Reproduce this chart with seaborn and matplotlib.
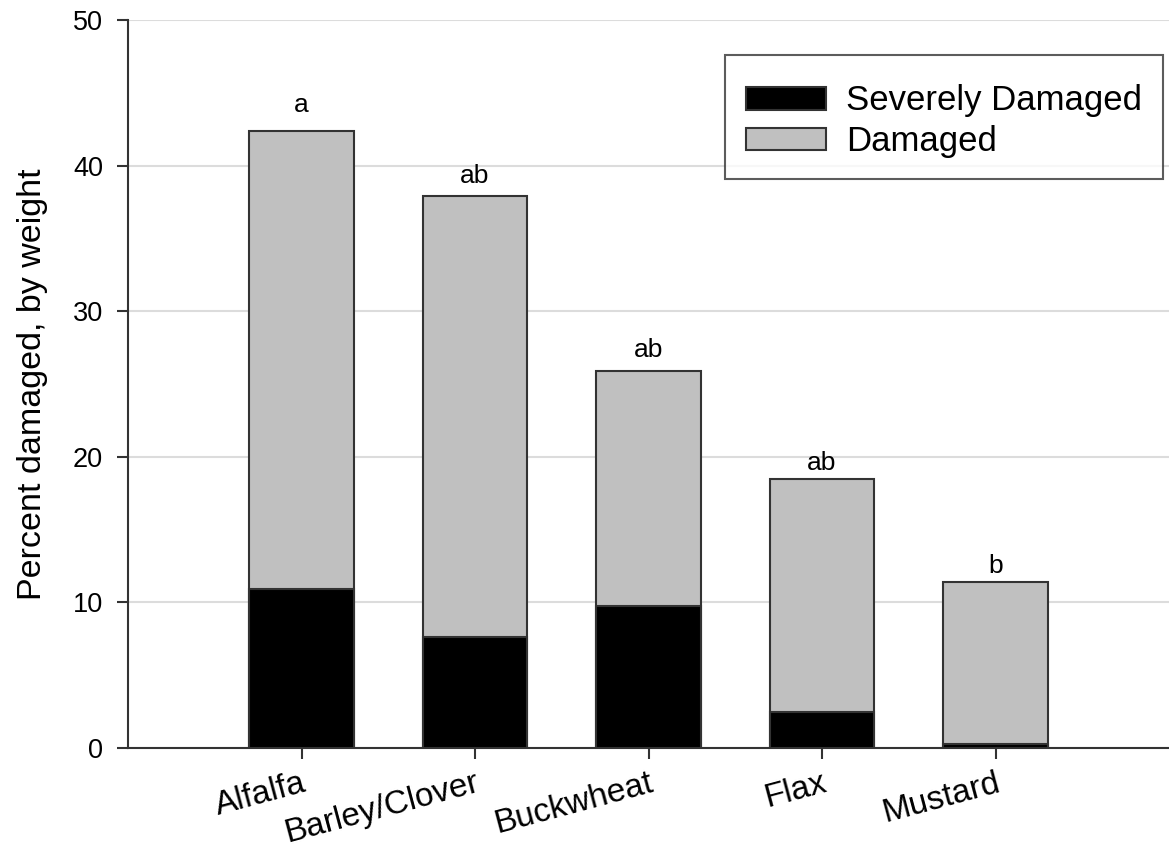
import matplotlib
matplotlib.use("Agg")
import matplotlib.pyplot as plt
import seaborn as sns
import pandas as pd
from matplotlib.patches import Patch

categories = ["Alfalfa", "Barley/Clover", "Buckwheat", "Flax", "Mustard"]
total_damaged = [42.4, 37.9, 25.9, 18.5, 11.4]
severely_damaged = [10.9, 7.6, 9.75, 2.5, 0.3]
letters = ["a", "ab", "ab", "ab", "b"]
letter_heights = [43.7, 38.8, 26.85, 19.1, 12.0]
yticks = [0, 10, 20, 30, 40, 50]

sns.set_theme(style="white")
plt.rcParams['font.family'] = ['Liberation Sans', 'DejaVu Sans']
plt.rcParams['text.color'] = 'black'
plt.rcParams['axes.labelcolor'] = 'black'

df = pd.DataFrame({"crop": categories, "total": total_damaged, "severe": severely_damaged})

fig = plt.figure(figsize=(11.69, 8.48), dpi=100)
ax = fig.add_axes([0.1095, 0.118, 0.8905, 0.858])

gray = "#c0c0c0"
edge = "#333333"
sns.barplot(data=df, x="crop", y="total", color=gray, width=0.6, edgecolor=edge,
            linewidth=1.5, saturation=1, ax=ax, zorder=3)
sns.barplot(data=df, x="crop", y="severe", color="black", width=0.6, edgecolor=edge,
            linewidth=1.5, saturation=1, ax=ax, zorder=3)

for i, (h, l) in enumerate(zip(letter_heights, letters)):
    ax.text(i, h, l, ha="center", va="baseline", fontsize=19, color="black")

ax.set_xlim(-1, 5)
ax.set_ylim(0, 50)
ax.set_yticks(yticks)
ax.yaxis.grid(True, color="#dcdcdc", linewidth=1.5, zorder=0)
ax.xaxis.grid(False)
ax.set_axisbelow(True)
for s in ["top", "right"]:
    ax.spines[s].set_visible(False)
for s in ["left", "bottom"]:
    ax.spines[s].set_color("#333333")
    ax.spines[s].set_linewidth(1.5)
ax.tick_params(axis="both", which="both", direction="out", length=8, width=1.5,
               color="#333333", bottom=True, left=True, labelcolor="black")
ax.tick_params(axis="y", labelsize=19.5, pad=10)
ax.tick_params(axis="x", labelsize=24, pad=6)
ax.set_xticks(range(len(categories)))
ax.set_xticklabels(categories, rotation=15, ha="right", rotation_mode="anchor")
ax.set_xlabel("")
ax.set_ylabel("Percent damaged, by weight", fontsize=24.5, labelpad=18, color="black")

handles = [Patch(facecolor="black", edgecolor=edge, linewidth=1.5, label="Severely Damaged"),
           Patch(facecolor=gray, edgecolor=edge, linewidth=1.5, label="Damaged")]
leg = ax.legend(handles=handles, loc="upper right", bbox_to_anchor=(1163/1169, 1 - 55/848),
                bbox_transform=fig.transFigure, borderaxespad=0, fontsize=25, frameon=True,
                fancybox=False, edgecolor="#333333", handlelength=2.3, handleheight=0.63,
                borderpad=0.6, labelspacing=0.22, handletextpad=0.58,
                title=" ", title_fontsize=1.5, labelcolor="black")
leg.get_frame().set_linewidth(1.5)

fig.savefig("out.png", dpi=100)
